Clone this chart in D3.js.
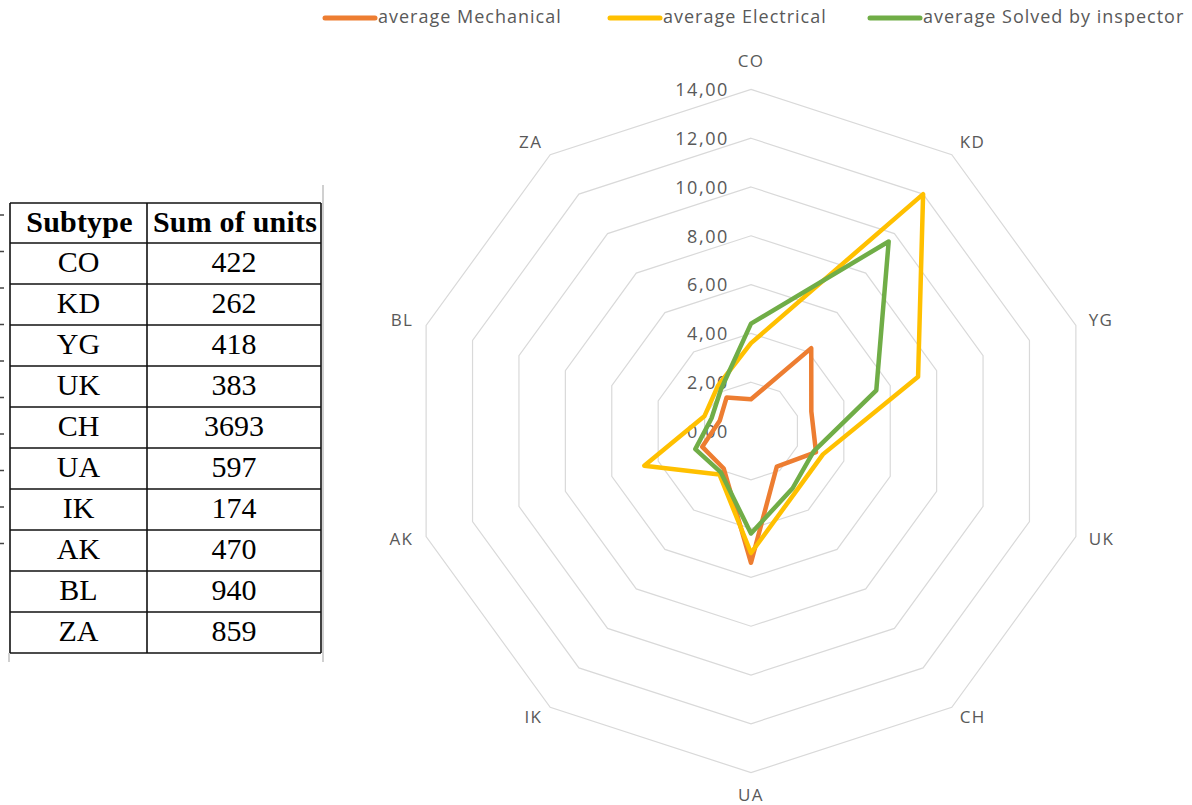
<!DOCTYPE html>
<html>
<head>
<meta charset="utf-8">
<script src="https://cdn.jsdelivr.net/npm/d3@7"></script>
<style>
  html, body { margin: 0; padding: 0; background: #ffffff; }
  svg { display: block; }
</style>
</head>
<body>
<svg id="chart" width="1192" height="805"></svg>
<script>
// ---------- data ----------
const categories = ["CO", "KD", "YG", "UK", "CH", "UA", "IK", "AK", "BL", "ZA"];
const mechanical = [1.3, 4.2, 2.6, 2.8, 1.8, 5.4, 1.9, 2.1, 1.35, 1.7];
const electrical = [3.6, 12.0, 7.2, 3.1, 3.1, 5.0, 2.2, 4.6, 2.0, 2.3];
const solvedByInspector = [4.4, 9.6, 5.4, 2.7, 2.9, 4.2, 2.1, 2.4, 1.7, 2.1];
const seriesNames = ["average Mechanical", "average Electrical", "average Solved by inspector"];
const seriesColors = ["#ED7D31", "#FFC000", "#70AD47"];
const radialTicks = [0, 2, 4, 6, 8, 10, 12, 14];

const tableHeader = ["Subtype", "Sum of units"];
const tableSubtypes = ["CO", "KD", "YG", "UK", "CH", "UA", "IK", "AK", "BL", "ZA"];
const tableUnits = [422, 262, 418, 383, 3693, 597, 174, 470, 940, 859];

// ---------- setup ----------
const svg = d3.select("#chart");
const cx = 751, cy = 431;
const rScale = d3.scaleLinear().domain([0, 14]).range([0, 341.6]);
const angle = d3.scalePoint().domain(categories).range([0, 2 * Math.PI * (categories.length - 1) / categories.length]);
const labelFont = "'Open Sans', sans-serif";
const textGray = "#595959";

const g = svg.append("g").attr("transform", `translate(${cx},${cy})`);

// grid rings
const ringLine = d3.lineRadial()
  .angle(d => angle(d.c))
  .radius(d => rScale(d.v))
  .curve(d3.curveLinearClosed);

g.selectAll("path.ring")
  .data(radialTicks.filter(t => t > 0))
  .join("path")
  .attr("class", "ring")
  .attr("d", t => ringLine(categories.map(c => ({c, v: t}))))
  .attr("fill", "none")
  .attr("stroke", "#d9d9d9")
  .attr("stroke-width", 1.2);

// radial tick labels
g.selectAll("text.tick")
  .data(radialTicks)
  .join("text")
  .attr("class", "tick")
  .attr("x", -22)
  .attr("y", t => -rScale(t) + 2)
  .attr("text-anchor", "end")
  .attr("dominant-baseline", "middle")
  .attr("font-family", labelFont)
  .attr("font-size", 18)
  .attr("letter-spacing", 1.6)
  .attr("fill", textGray)
  .text(t => d3.format(".2f")(t).replace(".", ","));

// category labels
const labelR = 355;
g.selectAll("text.cat")
  .data(categories)
  .join("text")
  .attr("class", "cat")
  .attr("x", c => labelR * Math.sin(angle(c)))
  .attr("y", c => {
    const s = Math.sin(angle(c)), co = Math.cos(angle(c));
    return -labelR * co - (Math.abs(s) < 0.01 ? co * (co > 0 ? 14 : 10) : 0);
  })
  .attr("text-anchor", c => {
    const s = Math.sin(angle(c));
    return Math.abs(s) < 0.01 ? "middle" : (s > 0 ? "start" : "end");
  })
  .attr("dominant-baseline", "middle")
  .attr("font-family", labelFont)
  .attr("font-size", 17)
  .attr("letter-spacing", 1.4)
  .attr("fill", textGray)
  .text(c => c);

// series
const allSeries = [mechanical, electrical, solvedByInspector];
g.selectAll("path.series")
  .data(allSeries)
  .join("path")
  .attr("class", "series")
  .attr("d", vals => ringLine(categories.map((c, i) => ({c, v: vals[i]}))))
  .attr("fill", "none")
  .attr("stroke", (d, i) => seriesColors[i])
  .attr("stroke-width", 4.5)
  .attr("stroke-linejoin", "round");

// legend
const legendX = [323, 608, 868];
const legend = svg.append("g").attr("class", "legend");
seriesNames.forEach((name, i) => {
  legend.append("line")
    .attr("x1", legendX[i] + 2).attr("x2", legendX[i] + 52)
    .attr("y1", 18).attr("y2", 18)
    .attr("stroke", seriesColors[i])
    .attr("stroke-width", 5)
    .attr("stroke-linecap", "round");
  legend.append("text")
    .attr("x", legendX[i] + 55)
    .attr("y", 18)
    .attr("dominant-baseline", "middle")
    .attr("font-family", labelFont)
    .attr("font-size", 18)
    .attr("letter-spacing", 1.0)
    .attr("fill", textGray)
    .text(name);
});

// ---------- table ----------
const tX = 10, tColX = 147, tRight = 321, tTop = 203, hdrH = 40, rowH = 41;
const tbl = svg.append("g").attr("class", "table");
const rowsY = d3.range(tableSubtypes.length + 1).map(i => i === 0 ? tTop : tTop + hdrH + (i - 1) * rowH);
const tBottom = tTop + hdrH + tableSubtypes.length * rowH;
const serif = "'Liberation Serif', 'Times New Roman', serif";

// faint background lines
tbl.append("line").attr("x1", 323).attr("x2", 323).attr("y1", 185).attr("y2", 662)
  .attr("stroke", "#d0d0d0").attr("stroke-width", 2);
tbl.append("line").attr("x1", 9).attr("x2", 9).attr("y1", tBottom).attr("y2", 662)
  .attr("stroke", "#d0d0d0").attr("stroke-width", 2);
d3.range(10).forEach(i => {
  tbl.append("line").attr("x1", 0).attr("x2", 4)
    .attr("y1", 215 + i * 36.5).attr("y2", 215 + i * 36.5)
    .attr("stroke", "#444").attr("stroke-width", 1.5);
});

// grid lines
tbl.selectAll("line.h")
  .data(rowsY.concat([tBottom]))
  .join("line")
  .attr("class", "h")
  .attr("x1", tX).attr("x2", tRight)
  .attr("y1", d => d).attr("y2", d => d)
  .attr("stroke", "#111").attr("stroke-width", 1.6);
[tX, tColX, tRight].forEach(x => {
  tbl.append("line").attr("x1", x).attr("x2", x).attr("y1", tTop).attr("y2", tBottom)
    .attr("stroke", "#111").attr("stroke-width", 1.6);
});

// header
tbl.selectAll("text.hdr")
  .data(tableHeader)
  .join("text")
  .attr("class", "hdr")
  .attr("x", (d, i) => i === 0 ? (tX + tColX) / 2 + 1 : (tColX + tRight) / 2 + 1)
  .attr("y", tTop + hdrH / 2 + 2)
  .attr("text-anchor", "middle")
  .attr("dominant-baseline", "middle")
  .attr("font-family", serif)
  .attr("font-weight", "bold")
  .attr("font-size", 30)
  .attr("letter-spacing", 0.2)
  .attr("fill", "#000")
  .text(d => d);

tableSubtypes.forEach((s, i) => {
  const y = tTop + hdrH + i * rowH + rowH / 2 + 2;
  tbl.append("text")
    .attr("x", (tX + tColX) / 2).attr("y", y)
    .attr("text-anchor", "middle").attr("dominant-baseline", "middle")
    .attr("font-family", serif)
    .attr("font-size", 30).attr("fill", "#000")
    .text(s);
  tbl.append("text")
    .attr("x", (tColX + tRight) / 2).attr("y", y)
    .attr("text-anchor", "middle").attr("dominant-baseline", "middle")
    .attr("font-family", serif)
    .attr("font-size", 30).attr("fill", "#000")
    .text(tableUnits[i]);
});
</script>
</body>
</html>
